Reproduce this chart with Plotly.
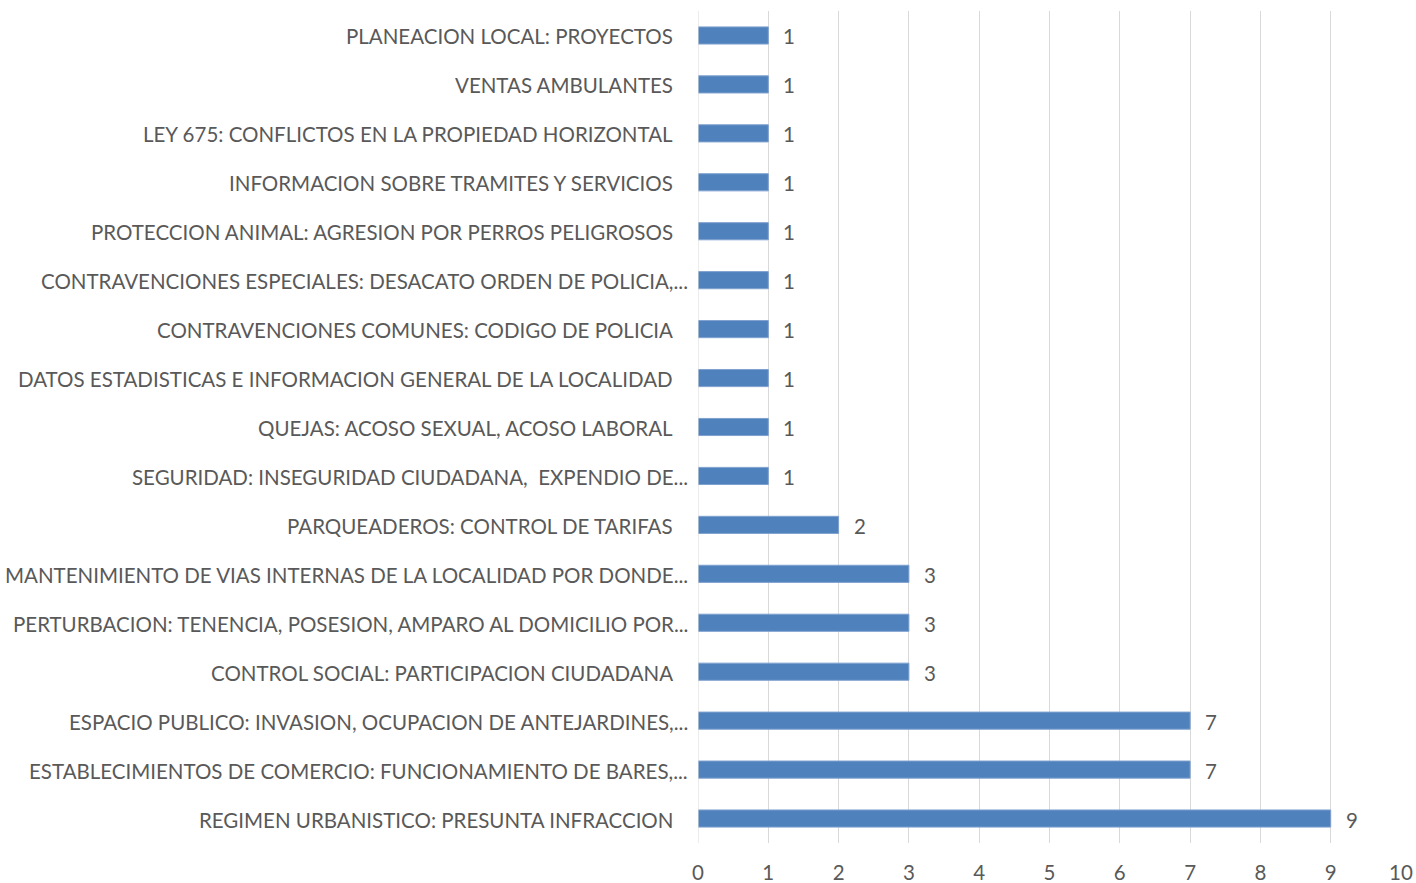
import plotly.graph_objects as go

categories = [
    "PLANEACION LOCAL: PROYECTOS",
    "VENTAS AMBULANTES",
    "LEY 675: CONFLICTOS EN LA PROPIEDAD HORIZONTAL",
    "INFORMACION SOBRE TRAMITES Y SERVICIOS",
    "PROTECCION ANIMAL: AGRESION POR PERROS PELIGROSOS",
    "CONTRAVENCIONES ESPECIALES: DESACATO ORDEN DE POLICIA,...",
    "CONTRAVENCIONES COMUNES: CODIGO DE POLICIA",
    "DATOS ESTADISTICAS E INFORMACION GENERAL DE LA LOCALIDAD",
    "QUEJAS: ACOSO SEXUAL, ACOSO LABORAL",
    "SEGURIDAD: INSEGURIDAD CIUDADANA,  EXPENDIO DE...",
    "PARQUEADEROS: CONTROL DE TARIFAS",
    "MANTENIMIENTO DE VIAS INTERNAS DE LA LOCALIDAD POR DONDE...",
    "PERTURBACION: TENENCIA, POSESION, AMPARO AL DOMICILIO POR...",
    "CONTROL SOCIAL: PARTICIPACION CIUDADANA",
    "ESPACIO PUBLICO: INVASION, OCUPACION DE ANTEJARDINES,...",
    "ESTABLECIMIENTOS DE COMERCIO: FUNCIONAMIENTO DE BARES,...",
    "REGIMEN URBANISTICO: PRESUNTA INFRACCION",
]
values = [1, 1, 1, 1, 1, 1, 1, 1, 1, 1, 2, 3, 3, 3, 7, 7, 9]
x_ticks = list(range(0, 11))

FONT = "Lato"
TXT = "#595959"
FS = 20.5

fig = go.Figure(go.Bar(
    y=categories,
    x=values,
    orientation="h",
    marker=dict(color="#4F81BD", line=dict(color="#7FA1CF", width=1)),
    width=0.35,
))

for c, v in zip(categories, values):
    fig.add_annotation(x=v, y=c, text=str(v), showarrow=False,
                       xanchor="left", yanchor="middle", xshift=13, yshift=-1,
                       font=dict(family=FONT, size=FS, color=TXT))
    # category label (truncated labels hang a little further right, as in the source)
    fig.add_annotation(x=0, xref="paper", y=c, text=c.replace("  ", "&nbsp; "),
                       showarrow=False, xanchor="right", yanchor="middle",
                       xshift=-8 if c.endswith("...") else -23, yshift=-1,
                       font=dict(family=FONT, size=FS, color=TXT))

fig.update_layout(
    width=1416, height=883,
    margin=dict(l=698, r=15, t=11, b=40),
    plot_bgcolor="white", paper_bgcolor="white",
    showlegend=False,
    font=dict(family=FONT, size=FS, color=TXT),
    xaxis=dict(range=[0, 10], tickvals=x_ticks, showgrid=True, gridcolor="#D9D9D9",
               gridwidth=1, zeroline=False, showline=False, ticks="",
               automargin=False,
               ticklabelstandoff=15, tickfont=dict(family=FONT, size=FS, color=TXT)),
    yaxis=dict(categoryorder="array", categoryarray=categories[::-1],
               showgrid=False, zeroline=False, showline=False, ticks="",
               showticklabels=False, automargin=False),
)
fig.add_shape(type="line", xref="x", yref="paper", x0=0, x1=0, y0=0, y1=1,
              line=dict(color="#D9D9D9", width=1))

fig.write_html("out.html", config={"displayModeBar": False},
               post_script="document.body.style.margin='0';document.body.style.overflow='hidden';")
